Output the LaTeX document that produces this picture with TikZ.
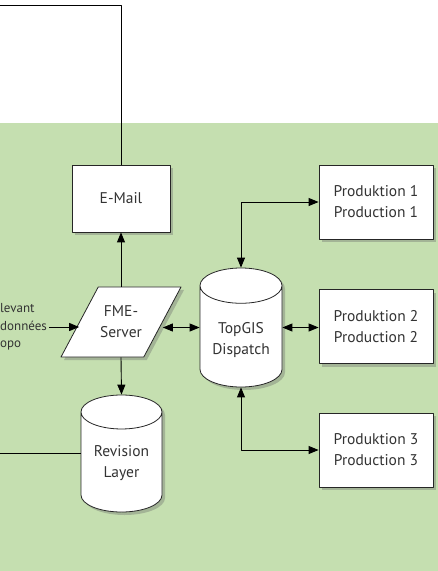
\documentclass[tikz,border=0pt]{standalone}
\usepackage{fontspec}
\setmainfont{PT Sans}
\usetikzlibrary{shapes.geometric,arrows.meta,shadows}
\definecolor{bggreen}{RGB}{197,223,176}
\definecolor{endfill}{RGB}{238,245,234}
\definecolor{txtgray}{RGB}{51,51,51}
\tikzset{
  box/.style={draw=black!85, line width=0.8pt, fill=white, text=txtgray, align=center,
    drop shadow={shadow xshift=3pt, shadow yshift=-3pt, opacity=0.35, fill=black!60}},
  stepbox/.style={box, rectangle, minimum width=114pt, minimum height=74pt},
  db/.style={box, cylinder, shape border rotate=90, aspect=0.55, anchor=shape center,
    cylinder uses custom fill, cylinder end fill=endfill, cylinder body fill=white},
  link/.style={line width=0.9pt, -{Triangle[length=10pt,width=8pt]}},
  dlink/.style={line width=0.9pt, {Triangle[length=10pt,width=8pt]}-{Triangle[length=10pt,width=8pt]}}
}
\begin{document}
\begin{tikzpicture}[x=1pt,y=-1pt,font=\fontsize{15.5}{21}\selectfont, line join=round] % Ablauf TopGIS
	\useasboundingbox (0,0) rectangle (438,571);
	\fill[bggreen] (0,123) rectangle (438,571);
	\coordinate (top) at (0,5);
	\coordinate (left) at (0,453.5);
	\node[box, rectangle, minimum width=98pt, minimum height=67pt] (mail) at (121,198.5) {E-Mail};
	\node[box, trapezium, trapezium left angle=62, trapezium right angle=118, trapezium stretches body,
		minimum width=120pt, inner xsep=0pt, inner ysep=19pt] (fme) at (121,322) {FME-\\Server};
	\node[db, minimum width=82pt, minimum height=119pt] (dispatch) at (241,327.5) {TopGIS\\Dispatch};
	\node[db, minimum width=81pt, minimum height=117pt, text depth=8pt] (revision) at (121.5,453.5) {Revision\\Layer};
	\node[stepbox] (prod1) at (376,202) {Produktion 1\\Production 1};
	\node[stepbox] (prod2) at (376,326.5) {Produktion 2\\Production 2};
	\node[stepbox] (prod3) at (376,450) {Produktion 3\\Production 3};
	\node[anchor=west, align=left, inner sep=0pt, text=txtgray, font=\fontsize{13}{17.5}\selectfont] (input) at (0,327) {levant\\données\\opo};
	% Verbindungen
	\draw[line width=0.9pt] (top) -| (mail.north);
	\draw[line width=0.9pt] (left) -- (left -| revision.west);
	\draw[link] (mail.south |- fme.north) -- (mail.south);
	\draw[link] (fme.south) -- (revision.north);
	\draw[link] ([xshift=2pt]input.east) -- (input.east -| fme.west);
	\draw[dlink] (dispatch.shape center -| dispatch.west) -- (dispatch.shape center -| fme.east);
	\draw[dlink] (dispatch.north) |- (prod1.west);
	\draw[dlink] (dispatch.shape center -| dispatch.east) -- (dispatch.shape center -| prod2.west);
	\draw[dlink] (dispatch.south) |- (prod3.west);
\end{tikzpicture}
\end{document}
